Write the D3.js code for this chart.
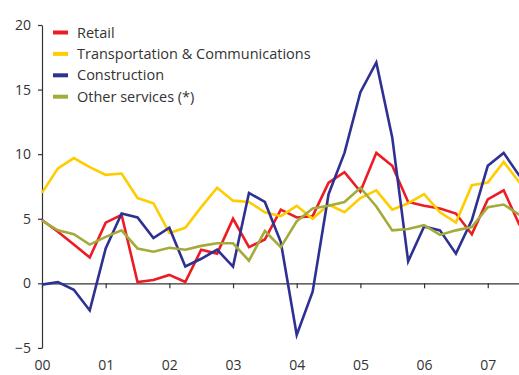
<!DOCTYPE html>
<html>
<head>
<meta charset="utf-8">
<script src="https://cdn.jsdelivr.net/npm/d3@7"></script>
<style>
  html, body { margin: 0; padding: 0; background: #fff; }
  svg text { font-family: "Open Sans", "Noto Sans", sans-serif; fill: #333; }
</style>
</head>
<body>
<svg id="chart" width="519" height="375"></svg>
<script>
// Quarterly growth rates, 2000 Q1 – 2007 Q3
const quarters = d3.range(31);
const yearLabels = ["00", "01", "02", "03", "04", "05", "06", "07"];
const yTicks = [-5, 0, 5, 10, 15, 20];

const seriesNames = ["Retail", "Transportation & Communications", "Construction", "Other services (*)"];
const seriesColors = ["#ed1c24", "#ffcc00", "#2e3192", "#a3ab3a"];

const retail = [4.9, 4.0, 3.0, 2.0, 4.7, 5.3, 0.1, 0.25, 0.65, 0.1, 2.6, 2.3, 5.0, 2.8, 3.4, 5.7,
                5.1, 5.2, 7.8, 8.6, 7.1, 10.1, 9.1, 6.3, 6.0, 5.8, 5.4, 3.8, 6.5, 7.2, 4.5];
const transport = [7.0, 8.9, 9.7, 9.0, 8.4, 8.5, 6.6, 6.2, 3.9, 4.3, 5.9, 7.4, 6.4, 6.3, 5.5, 5.2,
                   6.0, 5.0, 6.1, 5.5, 6.6, 7.2, 5.7, 6.2, 6.9, 5.5, 4.7, 7.6, 7.8, 9.4, 7.8];
const construction = [-0.1, 0.1, -0.5, -2.1, 2.7, 5.4, 5.1, 3.5, 4.3, 1.3, 1.9, 2.6, 1.3, 7.0, 6.3, 3.2,
                      -4.0, -0.65, 6.9, 10.1, 14.8, 17.1, 11.3, 1.7, 4.4, 4.1, 2.3, 4.9, 9.1, 10.1, 8.3];
const otherServices = [4.85, 4.1, 3.8, 3.0, 3.6, 4.1, 2.7, 2.45, 2.75, 2.6, 2.9, 3.1, 3.1, 1.75, 4.05, 2.8,
                       4.8, 5.8, 6.0, 6.3, 7.4, 5.95, 4.1, 4.2, 4.5, 3.75, 4.1, 4.35, 5.9, 6.1, 5.3];

const seriesValues = [retail, transport, construction, otherServices];

const svg = d3.select("#chart");

const x = d3.scaleLinear().domain([0, 30]).range([42, 519.6]);
const y = d3.scaleLinear().domain([-5, 20]).range([347.9, 25]);

// Y axis
const yAxis = d3.axisLeft(y).tickValues(yTicks).tickSize(4).tickSizeOuter(0).tickPadding(7)
  .tickFormat(d3.format("d"));
const gy = svg.append("g").attr("transform", `translate(${x(0)},0)`).call(yAxis);
gy.selectAll("text").style("font-size", "14px");
gy.selectAll("path, line").attr("stroke", "#333").attr("stroke-width", 1.2);

// X axis along zero line, labels at the bottom
const xAxis = d3.axisBottom(x).tickValues(yearLabels.map((_, i) => i * 4))
  .tickFormat((d, i) => yearLabels[i]).tickSize(5).tickSizeOuter(0).tickPadding(72);
const gx = svg.append("g").attr("transform", `translate(0,${y(0)})`).call(xAxis);
gx.selectAll("text").style("font-size", "14px");
gx.selectAll("path, line").attr("stroke", "#333").attr("stroke-width", 1.2);

// Series lines
const line = d3.line().x((d, i) => x(quarters[i])).y(d => y(d));
seriesValues.forEach((vals, k) => {
  svg.append("path")
    .datum(vals)
    .attr("d", line)
    .attr("fill", "none")
    .attr("stroke", seriesColors[k])
    .attr("stroke-width", 2.6)
    .attr("stroke-linejoin", "miter");
});

// Legend
const legend = svg.append("g").attr("transform", "translate(53,32.5)");
seriesNames.forEach((name, k) => {
  const g = legend.append("g").attr("transform", `translate(0,${k * 21.4})`);
  g.append("rect").attr("x", 0).attr("y", -2).attr("width", 15).attr("height", 4)
    .attr("fill", seriesColors[k]);
  g.append("text").attr("x", 24).attr("y", 0).attr("dy", "0.35em")
    .style("font-size", "14.5px").text(name);
});
</script>
</body>
</html>
